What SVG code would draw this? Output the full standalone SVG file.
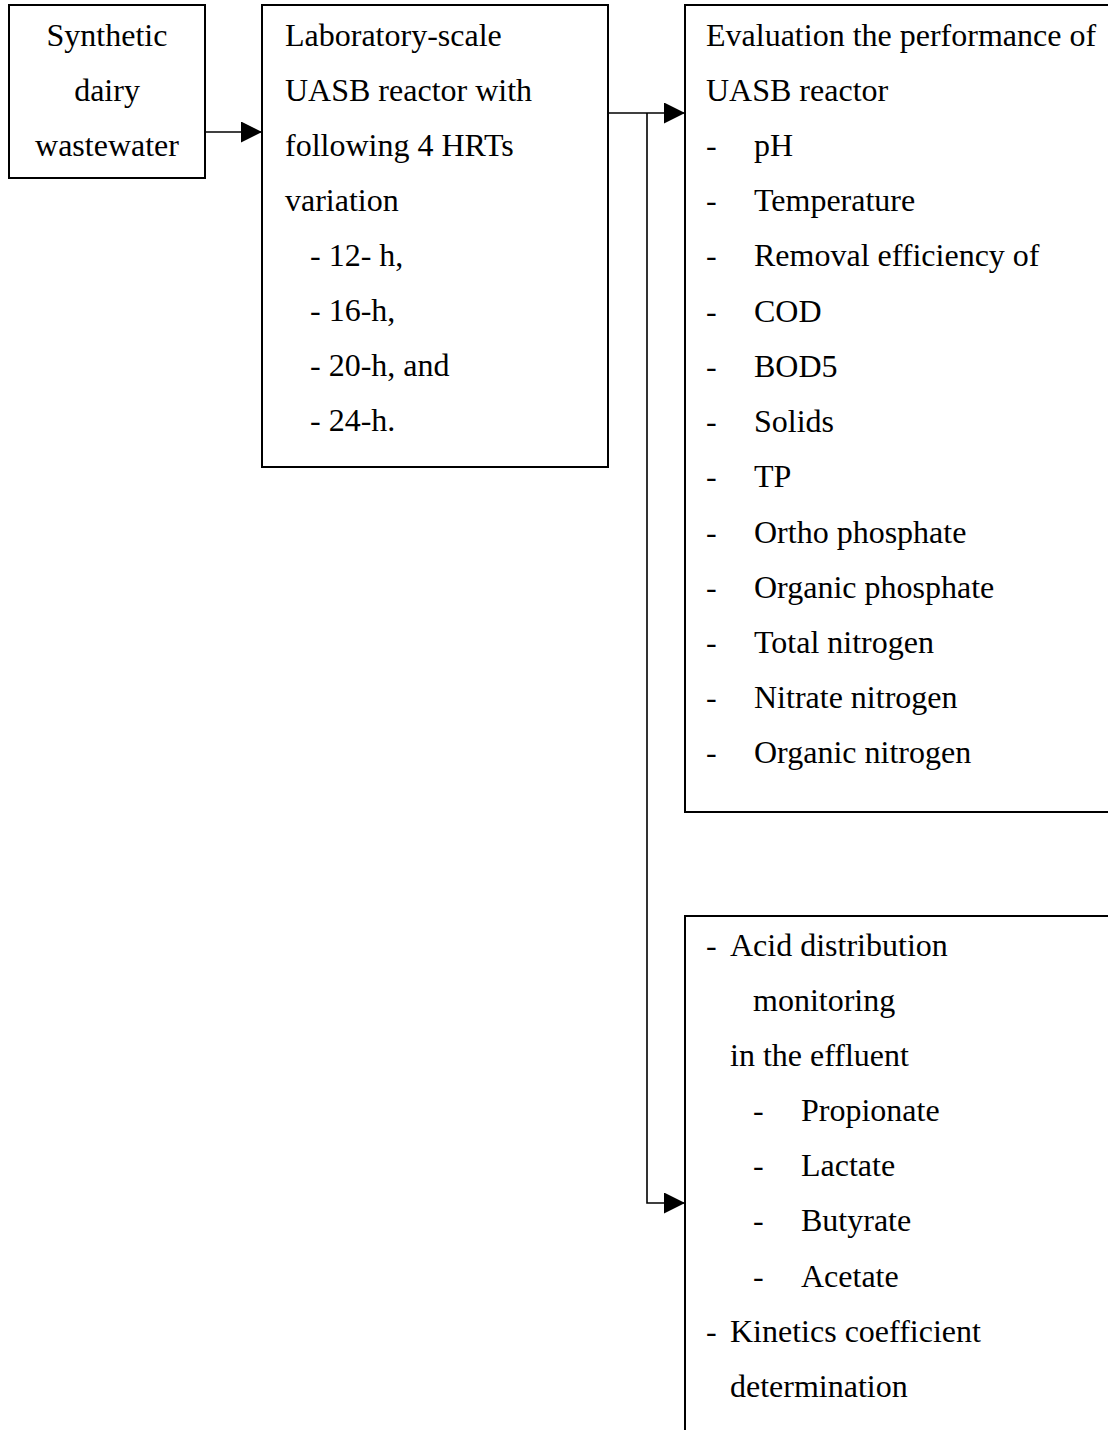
<svg xmlns="http://www.w3.org/2000/svg" width="1108" height="1430" viewBox="0 0 1108 1430">
  <style>
    .box { fill: #ffffff; stroke: #000000; stroke-width: 2; }
    .lbl { font-family: "Liberation Serif", "Times New Roman", serif; font-size: 32px; fill: #000000; }
    .mid { text-anchor: middle; }
    .wire { fill: none; stroke: #000000; stroke-width: 1.6; }
  </style>
  <defs>
    <marker id="head" viewBox="0 0 10 10" refX="10" refY="5" markerWidth="10" markerHeight="10" markerUnits="userSpaceOnUse" orient="auto">
      <path d="M0,0 L10,5 L0,10 Z" fill="#000000"/>
    </marker>
    <marker id="headL" viewBox="0 0 20 20" refX="20" refY="10" markerWidth="21" markerHeight="21" markerUnits="userSpaceOnUse" orient="auto">
      <path d="M0,0 L20,10 L0,20 Z" fill="#000000"/>
    </marker>
  </defs>

  <rect width="1108" height="1430" fill="#ffffff"/>

  <!-- connectors -->
  <g id="connectors">
    <line class="wire" x1="205" y1="132" x2="262" y2="132" marker-end="url(#headL)"/>
    <line class="wire" x1="608" y1="113" x2="685" y2="113" marker-end="url(#headL)"/>
    <polyline class="wire" points="647,113 647,1203 685,1203" marker-end="url(#headL)"/>
  </g>

  <!-- input wastewater -->
  <g id="node-input">
    <rect class="box" x="9" y="5" width="196" height="173"/>
    <text class="lbl mid" x="107" y="46">Synthetic</text>
    <text class="lbl mid" x="107" y="101">dairy</text>
    <text class="lbl mid" x="107" y="156">wastewater</text>
  </g>

  <!-- reactor setup -->
  <g id="node-reactor">
    <rect class="box" x="262" y="5" width="346" height="462"/>
    <text class="lbl" x="285" y="46">Laboratory-scale</text>
    <text class="lbl" x="285" y="101">UASB reactor with</text>
    <text class="lbl" x="285" y="156">following 4 HRTs</text>
    <text class="lbl" x="285" y="211">variation</text>
    <text class="lbl" x="310" y="266">- 12- h,</text>
    <text class="lbl" x="310" y="321">- 16-h,</text>
    <text class="lbl" x="310" y="376">- 20-h, and</text>
    <text class="lbl" x="310" y="431">- 24-h.</text>
  </g>

  <!-- performance evaluation -->
  <g id="node-performance">
    <rect class="box" x="685" y="5" width="440" height="807"/>
    <text class="lbl" x="706" y="46">Evaluation the performance of</text>
    <text class="lbl" x="706" y="101">UASB reactor</text>
    <text class="lbl" y="156"><tspan x="706">-</tspan><tspan x="754">pH</tspan></text>
    <text class="lbl" y="211"><tspan x="706">-</tspan><tspan x="754">Temperature</tspan></text>
    <text class="lbl" y="266"><tspan x="706">-</tspan><tspan x="754">Removal efficiency of</tspan></text>
    <text class="lbl" y="322"><tspan x="706">-</tspan><tspan x="754">COD</tspan></text>
    <text class="lbl" y="377"><tspan x="706">-</tspan><tspan x="754">BOD5</tspan></text>
    <text class="lbl" y="432"><tspan x="706">-</tspan><tspan x="754">Solids</tspan></text>
    <text class="lbl" y="487"><tspan x="706">-</tspan><tspan x="754">TP</tspan></text>
    <text class="lbl" y="543"><tspan x="706">-</tspan><tspan x="754">Ortho phosphate</tspan></text>
    <text class="lbl" y="598"><tspan x="706">-</tspan><tspan x="754">Organic phosphate</tspan></text>
    <text class="lbl" y="653"><tspan x="706">-</tspan><tspan x="754">Total nitrogen</tspan></text>
    <text class="lbl" y="708"><tspan x="706">-</tspan><tspan x="754">Nitrate nitrogen</tspan></text>
    <text class="lbl" y="763"><tspan x="706">-</tspan><tspan x="754">Organic nitrogen</tspan></text>
  </g>

  <!-- acid distribution and kinetics -->
  <g id="node-acids">
    <rect class="box" x="685" y="916" width="440" height="540"/>
    <text class="lbl" y="956"><tspan x="706">-</tspan><tspan x="730">Acid distribution</tspan></text>
    <text class="lbl" x="753" y="1011">monitoring</text>
    <text class="lbl" x="730" y="1066">in the effluent</text>
    <text class="lbl" y="1121"><tspan x="753">-</tspan><tspan x="801">Propionate</tspan></text>
    <text class="lbl" y="1176"><tspan x="753">-</tspan><tspan x="801">Lactate</tspan></text>
    <text class="lbl" y="1231"><tspan x="753">-</tspan><tspan x="801">Butyrate</tspan></text>
    <text class="lbl" y="1287"><tspan x="753">-</tspan><tspan x="801">Acetate</tspan></text>
    <text class="lbl" y="1342"><tspan x="706">-</tspan><tspan x="730">Kinetics coefficient</tspan></text>
    <text class="lbl" x="730" y="1397">determination</text>
  </g>
</svg>
